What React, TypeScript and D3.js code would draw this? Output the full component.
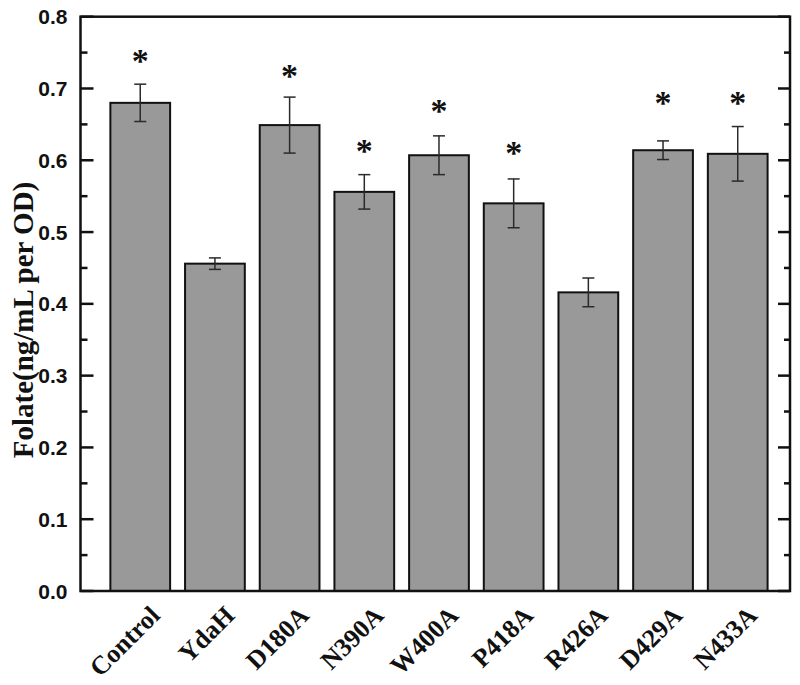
import React, { useEffect, useRef } from 'react';
import * as d3 from 'd3';

// strains / mutants along the x axis
const categories = ['Control', 'YdaH', 'D180A', 'N390A', 'W400A', 'P418A', 'R426A', 'D429A', 'N433A'];
// mean folate (ng/mL per OD)
const means = [0.680, 0.456, 0.649, 0.556, 0.607, 0.540, 0.416, 0.614, 0.609];
// standard deviation (half-height of the error bar)
const errors = [0.026, 0.008, 0.039, 0.024, 0.027, 0.034, 0.020, 0.013, 0.038];
// significance marks: level of the asterisk, null = none
const starLevels = [0.747, null, 0.726, 0.621, 0.677, 0.618, null, 0.688, 0.688];
const yTicks = [0, 0.1, 0.2, 0.3, 0.4, 0.5, 0.6, 0.7, 0.8];

const serif = '"Liberation Serif", "Times New Roman", serif';
const sans = '"Liberation Sans", Arial, sans-serif';

function App() {
  const width = 800;
  const height = 685;
  const left = 80.5;
  const right = 790;
  const top = 16.7;
  const bottom = 591;

  // Origin-style numeric x axis: bars at 1..9
  const x = d3.scaleLinear().domain([0.2, 9.7]).range([left, right]);
  const y = d3.scaleLinear().domain([0, 0.8]).range([bottom, top]);
  const barW = x(0.8) - x(0);
  const cap = 6;
  const minor = d3.range(0.05, 0.8, 0.1);

  const data = categories.map((name, i) => ({
    name,
    pos: i + 1,
    mean: means[i],
    err: errors[i],
    star: starLevels[i],
  }));

  return (
    <svg width={width} height={height} style={{ position: 'absolute', left: 0, top: 0, display: 'block' }}>
      {/* bars */}
      <g>
        {data.map((d) => (
          <rect
            key={d.name}
            x={x(d.pos) - barW / 2}
            y={y(d.mean)}
            width={barW}
            height={y(0) - y(d.mean)}
            fill="#999999"
            stroke="#111"
            strokeWidth={2}
          />
        ))}
      </g>
      {/* error bars */}
      <g stroke="#2a2a2a" strokeWidth={1.5}>
        {data.map((d) => (
          <g key={d.name}>
            <line x1={x(d.pos)} x2={x(d.pos)} y1={y(d.mean + d.err)} y2={y(d.mean - d.err)} />
            <line x1={x(d.pos) - cap} x2={x(d.pos) + cap} y1={y(d.mean + d.err)} y2={y(d.mean + d.err)} />
            <line x1={x(d.pos) - cap} x2={x(d.pos) + cap} y1={y(d.mean - d.err)} y2={y(d.mean - d.err)} />
          </g>
        ))}
      </g>
      {/* asterisks */}
      <g>
        {data.filter((d) => d.star !== null).map((d) => (
          <text
            key={d.name}
            x={x(d.pos)}
            y={y(d.star as number) + 17}
            textAnchor="middle"
            fill="#111"
            style={{ fontFamily: serif, fontWeight: 'bold', fontSize: '34px' }}
          >
            *
          </text>
        ))}
      </g>
      {/* frame */}
      <rect x={left} y={top} width={right - left} height={bottom - top} fill="none" stroke="#111" strokeWidth={2.5} />
      {/* inward ticks, left and right */}
      <g stroke="#111" strokeWidth={2.5}>
        {yTicks.map((t) => (
          <g key={'M' + t}>
            <line x1={left} x2={left + 13} y1={y(t)} y2={y(t)} />
            <line x1={right} x2={right - 12} y1={y(t)} y2={y(t)} />
          </g>
        ))}
        {minor.map((t) => (
          <g key={'m' + t}>
            <line x1={left} x2={left + 7} y1={y(t)} y2={y(t)} />
            <line x1={right} x2={right - 6} y1={y(t)} y2={y(t)} />
          </g>
        ))}
      </g>
      {/* y tick labels */}
      <g>
        {yTicks.map((t) => (
          <text
            key={t}
            x={left - 13}
            y={y(t)}
            dy="0.36em"
            textAnchor="end"
            fill="#111"
            style={{ fontFamily: sans, fontWeight: 'bold', fontSize: '21px' }}
          >
            {d3.format('.1f')(t)}
          </text>
        ))}
      </g>
      {/* x labels, 45 degrees */}
      <g>
        {data.map((d) => (
          <text
            key={d.name}
            transform={`matrix(0.7071 -0.7071 0.7071 0.7071 ${x(d.pos) + 21} ${bottom + 26})`}
            textAnchor="end"
            fill="#111"
            style={{ fontFamily: serif, fontWeight: 'bold', fontSize: '26px' }}
          >
            {d.name}
          </text>
        ))}
      </g>
      {/* y title */}
      <text
        transform="translate(33,320) rotate(-90)"
        textAnchor="middle"
        fill="#111"
        style={{ fontFamily: serif, fontWeight: 'bold', fontSize: '29px' }}
      >
        Folate(ng/mL per OD)
      </text>
    </svg>
  );
}

export default App;
